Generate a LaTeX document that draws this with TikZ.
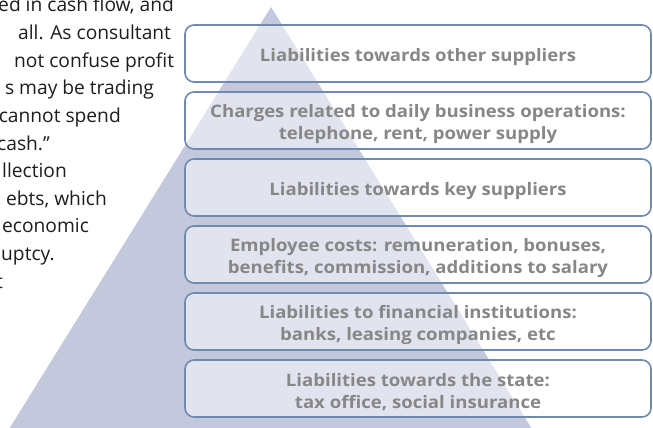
\documentclass[tikz,border=0pt]{standalone}
\usepackage{fontspec}
\setmainfont{Open Sans}
\newfontfamily\bodyfont{Open Sans}
\newfontfamily\tierfont[FakeStretch=1.08]{Open Sans}
\definecolor{pyramidfill}{HTML}{C4C8DD}
\definecolor{tierline}{HTML}{6E8AAF}
\definecolor{tiertext}{HTML}{878787}
\definecolor{bodyink}{HTML}{1E1C1D}
\tikzset{
  bodytext/.style={inner sep=0pt, anchor=base east, text=bodyink,
    font=\bodyfont\fontsize{19.2}{24}\selectfont},
  fromleft/.style={anchor=base west},
  tier/.style={draw=tierline, line width=1.6pt, rounded corners=9pt,
    fill=white, fill opacity=0.5,
    minimum width=466pt, minimum height=57pt, inner sep=0pt},
  tierlabel/.style={inner sep=0pt, align=center, text=tiertext,
    font=\tierfont\bfseries\fontsize{17.2}{21.5}\selectfont},
}
\begin{document}
\begin{tikzpicture}[x=1pt,y=-1pt]
\useasboundingbox (0,0) rectangle (653,428);
\clip (0,0) rectangle (653,428);

% body copy running in from the left column
\node[bodytext] (p0) at (174,12)    {ed in cash flow, and};
\node[bodytext, fromleft] (p1) at (18,39.6)  {all. As consultant};
\node[bodytext, fromleft] (p2) at (14,67.2)  {not confuse profit};
\node[bodytext] (p3) at (154,94.8)  {s may be trading};
\node[bodytext] (p4) at (121,122.4) {cannot spend};
\node[bodytext] (p5) at (50,150)    {cash.”};
\node[bodytext, fromleft] (p6) at (2,177.6)  {llection};
\node[bodytext] (p7) at (107,205.2) {ebts, which};
\node[bodytext, fromleft] (p8) at (2,232.8)  {economic};
\node[bodytext, fromleft] (p9) at (1,260.4)  {uptcy.};
\node[bodytext, fromleft] (p10) at (-4,288) {t};

% pyramid behind the tiers
\fill[pyramidfill] (271,7) -- (540,442) -- (1,442) -- cycle;

% tiers, from the top of the pyramid to its base
\node[tier] (t1) at (418,53.5)  {};
\node[tier] (t2) at (418,120.5) {};
\node[tier] (t3) at (418,187.5) {};
\node[tier] (t4) at (418,254.5) {};
\node[tier] (t5) at (418,321.5) {};
\node[tier] (t6) at (418,388.5) {};

\node[tierlabel] (l1) at ([yshift=-3.5pt]t1.center) {Liabilities towards other suppliers};
\node[tierlabel] (l2) at ([yshift=-3.5pt]t2.center) {Charges related to daily business operations:\\telephone, rent, power supply};
\node[tierlabel] (l3) at ([yshift=-3.5pt]t3.center) {Liabilities towards key suppliers};
\node[tierlabel] (l4) at ([yshift=-3.5pt]t4.center) {Employee costs: remuneration, bonuses,\\benefits, commission, additions to salary};
\node[tierlabel] (l5) at ([yshift=-3.5pt]t5.center) {Liabilities to financial institutions:\\banks, leasing companies, etc};
\node[tierlabel] (l6) at ([yshift=-3.5pt]t6.center) {Liabilities towards the state:\\tax office, social insurance};
\end{tikzpicture}
\end{document}
